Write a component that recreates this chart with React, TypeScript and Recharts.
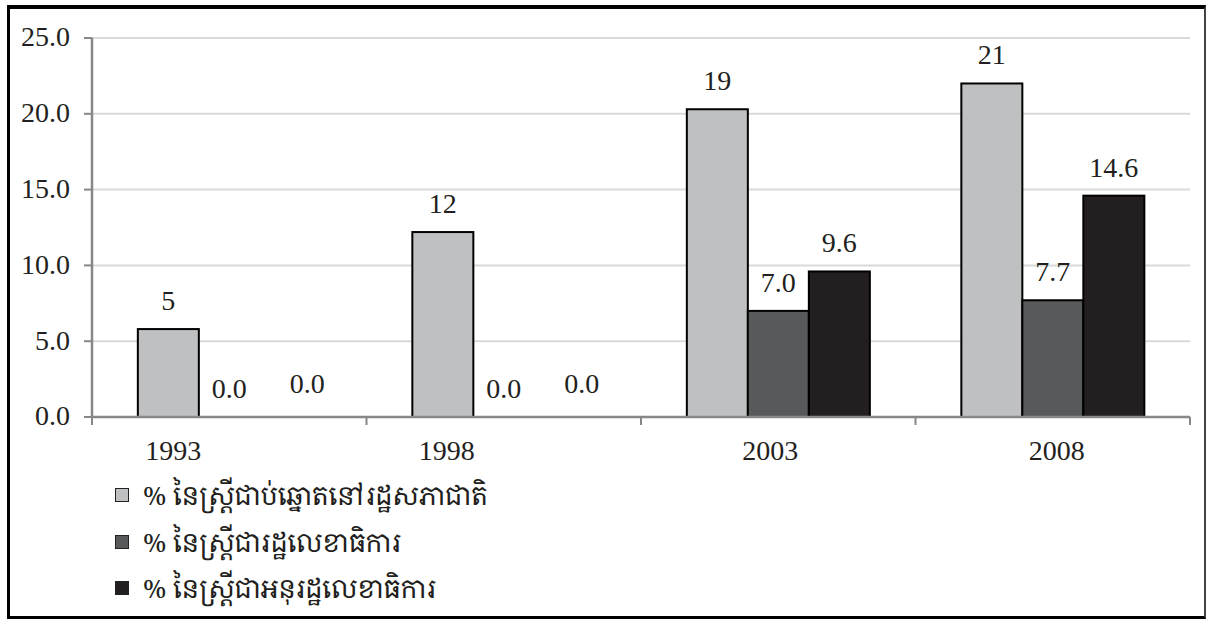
import { BarChart, Bar, XAxis, YAxis, CartesianGrid } from 'recharts';

const YEARS = ['1993', '1998', '2003', '2008'];
const ELECTED = [5.8, 12.2, 20.3, 22.0];
const ELECTED_LABELS = ['5', '12', '19', '21'];
const SECRETARIES = [0, 0, 7.0, 7.7];
const UNDER_SECRETARIES = [0, 0, 9.6, 14.6];
const Y_TICKS = [0, 5, 10, 15, 20, 25];

const SERIES_NAMES = [
  '% នៃស្ត្រីជាប់ឆ្នោតនៅរដ្ឋសភាជាតិ',
  '% នៃស្ត្រីជារដ្ឋលេខាធិការ',
  '% នៃស្ត្រីជាអនុរដ្ឋលេខាធិការ',
];
const SERIES_COLORS = ['#bfc0c2', '#58595b', '#231f20'];

const chartData = YEARS.map((year, i) => ({
  year,
  elected: ELECTED[i],
  electedLabel: ELECTED_LABELS[i],
  secretary: SECRETARIES[i],
  secretaryLabel: SECRETARIES[i].toFixed(1),
  under: UNDER_SECRETARIES[i],
  underLabel: UNDER_SECRETARIES[i].toFixed(1),
}));

// layout
const W = 1206;
const H = 619;
const PLOT_LEFT = 92;
const PLOT_RIGHT = 1190;
const PLOT_TOP = 38;
const PLOT_BOTTOM = 417;
const X_AXIS_H = 30;
const BAND_HALF = (PLOT_RIGHT - PLOT_LEFT) / (2 * YEARS.length);
const TICK_GAP = 22;
const LABEL_GAP = 19;
const FONT_SIZE = 28;
// the year labels sit off-centre in the original
const YEAR_NUDGE = [-56, -57, -8, 4];

const AXIS = '#878787';
const TEXT = '#231f20';
const FONT = '"Liberation Serif", "Times New Roman", serif';
const KHMER_FONT = '"Khmer OS", "Noto Serif Khmer", "Noto Sans Khmer", "Liberation Serif", serif';

const YearTick = (props: any) => {
  const { x, y, payload, index, visibleTicksCount } = props;
  const axisY = y - TICK_GAP;
  return (
    <g>
      <line x1={x - BAND_HALF} x2={x - BAND_HALF} y1={axisY} y2={axisY + 8} stroke={AXIS} strokeWidth={2} />
      {index === visibleTicksCount - 1 && (
        <line x1={x + BAND_HALF} x2={x + BAND_HALF} y1={axisY} y2={axisY + 8} stroke={AXIS} strokeWidth={2} />
      )}
      <text
        x={x + (YEAR_NUDGE[index] ?? 0)}
        y={axisY + 33}
        dy="0.35em"
        textAnchor="middle"
        fontSize={FONT_SIZE}
        fontFamily={FONT}
        fill={TEXT}
      >
        {payload.value}
      </text>
    </g>
  );
};

const ValueTick = (props: any) => {
  const { x, y, payload } = props;
  return (
    <text x={x} y={y} dy="0.3em" textAnchor="end" fontSize={FONT_SIZE} fontFamily={FONT} fill={TEXT}>
      {Number(payload.value).toFixed(1)}
    </text>
  );
};

// bar body plus its data label; zero bars keep their label
const labelledBar = (labelKey: string, zeroShift = 0) => (p: any) => {
  const { x, y, width, height, fill, payload } = p;
  const zero = !height || height < 0.5;
  return (
    <g>
      {!zero && <rect x={x} y={y} width={width} height={height} fill={fill} stroke="#000" strokeWidth={2} />}
      <text
        x={x + width / 2 + (zero ? zeroShift : 0)}
        y={y - LABEL_GAP - (zero && zeroShift ? 5 : 0)}
        textAnchor="middle"
        fontSize={FONT_SIZE}
        fontFamily={FONT}
        fill={TEXT}
      >
        {payload[labelKey]}
      </text>
    </g>
  );
};

export default function App() {
  return (
    <div style={{ position: 'absolute', left: 0, top: 0, width: W, height: H, background: '#fff', fontFamily: FONT }}>
      <div
        style={{
          position: 'absolute',
          left: 7,
          top: 5,
          width: W - 7,
          height: H - 5,
          boxSizing: 'border-box',
          borderLeft: '3px solid #000',
          borderTop: '4px solid #000',
          borderBottom: '3px solid #000',
          borderRight: '2px solid #444',
        }}
      />
      <div style={{ position: 'absolute', left: 0, top: 0 }}>
        <BarChart
          width={W}
          height={H}
          data={chartData}
          margin={{ top: PLOT_TOP, right: W - PLOT_RIGHT, left: 0, bottom: H - PLOT_BOTTOM - X_AXIS_H }}
          barCategoryGap="16.7%"
          barGap={0}
        >
          <CartesianGrid vertical={false} stroke="#d9d9d9" strokeWidth={2} />
          <XAxis
            dataKey="year"
            height={X_AXIS_H}
            axisLine={{ stroke: AXIS, strokeWidth: 2.5 }}
            tickLine={false}
            tickSize={0}
            tickMargin={TICK_GAP}
            tick={<YearTick />}
            interval={0}
          />
          <YAxis
            width={PLOT_LEFT}
            domain={[0, 25]}
            ticks={Y_TICKS}
            axisLine={{ stroke: AXIS, strokeWidth: 2.5 }}
            tickLine={{ stroke: AXIS, strokeWidth: 2 }}
            tickSize={8}
            tickMargin={14}
            tick={<ValueTick />}
          />
          <Bar dataKey="elected" fill={SERIES_COLORS[0]} isAnimationActive={false} shape={labelledBar('electedLabel')} />
          <Bar dataKey="secretary" fill={SERIES_COLORS[1]} isAnimationActive={false} shape={labelledBar('secretaryLabel')} />
          <Bar dataKey="under" fill={SERIES_COLORS[2]} isAnimationActive={false} shape={labelledBar('underLabel', 17)} />
        </BarChart>
      </div>
      <div style={{ position: 'absolute', left: 115, top: 472 }}>
        {SERIES_NAMES.map((name, i) => (
          <div key={name} style={{ display: 'flex', alignItems: 'center', height: 46.5 }}>
            <span
              style={{
                display: 'inline-block',
                width: 12,
                height: 12,
                background: SERIES_COLORS[i],
                border: '1.5px solid #222',
                marginRight: 14,
              }}
            />
            <span style={{ fontFamily: KHMER_FONT, fontSize: 26, color: TEXT, whiteSpace: 'nowrap' }}>{name}</span>
          </div>
        ))}
      </div>
    </div>
  );
}
